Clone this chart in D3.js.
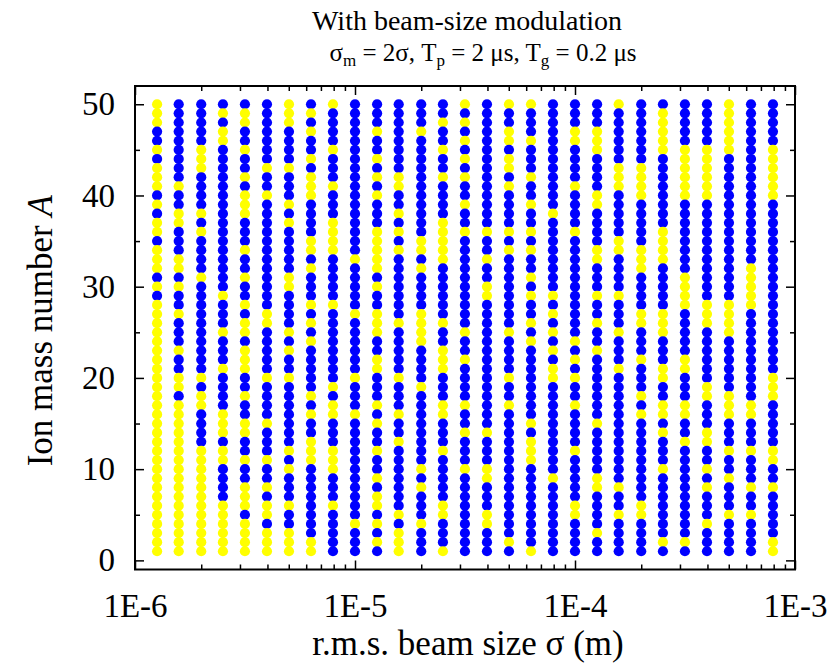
<!DOCTYPE html>
<html>
<head>
<meta charset="utf-8">
<script src="https://cdn.jsdelivr.net/npm/d3@7/dist/d3.min.js"></script>
<style>
  body { margin: 0; background: #fff; }
  svg text { font-family: "Liberation Serif", "Times New Roman", serif; }
</style>
</head>
<body>
<svg id="chart" width="837" height="664"></svg>
<script>
// r.m.s. beam size of each column (m)
var beamSizes = [1.26e-6, 1.58e-6, 2.0e-6, 2.51e-6, 3.16e-6, 3.98e-6, 5.01e-6, 6.31e-6, 7.94e-6,
                 1.0e-5, 1.26e-5, 1.58e-5, 2.0e-5, 2.51e-5, 3.16e-5, 3.98e-5, 5.01e-5, 6.31e-5, 7.94e-5,
                 1.0e-4, 1.26e-4, 1.58e-4, 2.0e-4, 2.51e-4, 3.16e-4, 3.98e-4, 5.01e-4, 6.31e-4, 7.94e-4];

// ion mass numbers, in the order the strings below are written (top to bottom)
var massNumbers = d3.range(50, 0, -1);

// one string per column, A = 50 ... 1, Y = yellow, B = blue (grouped by 5)
var outcome = [
  "YYYBB YBYYY BYBYY BYYYB YBYYY YYYYY YYYYY YYYYY YYYYY YYYYY",
  "BBBBB BBBBY BBYYB BBYYB YBBYB BBYBB YYBYY YYYYY YYYYY YYYYY",
  "BBBBB YYYBB BBYBY BBBBY BBBBB BBBBB YBYYB BBBYY YYYYY YYYYY",
  "BYBYY BBBBB BBBBB BBBBB BYBBB YBBBY BBBBY YYBYY BBBBY YYYYY",
  "BYYBB YBBYB YYYBB BYBBY BBYBY YBYYY BBYBB YYBBY BBYYY BYYYY",
  "BBBBB BBYBB YBBBB BBBBB BBBYY BBBBB YBBBB YBBBY BBYBY YBYYY",
  "YYYBB BBYBB BYBYB BBBBY YBBBB YBYBB YBBBB BBBYB YBBBY BBYYY",
  "BYBYB BYBYY YBBBB YYBYB BBYBY BYBBB BBYBY BBYYY BBBBB BBBYY",
  "YBBBB YBBBY BBBYY YYBBB BBYBB BBBBB BYBYY BBBYY YBBBY BBBBB",
  "BBBBB BBBBB BBBBB BBYBB BBBYB BBBBB YBBBY BBBBB BBBBB BYBBB",
  "BBBYB BYBYB YBBBY YYYYB YBBYY YBBYY BBBYB YBBYB BYBYY BYBYB",
  "BBBBB BBBYY BBYBY BYBBB BBBBY BBBBB YBBBY BBYBB BBBBB YBYYY",
  "BBBYB BBBBB BBBBB YYBYB BBBYY YYBBB BYBBB BBBBB YBYBB BYBBB",
  "BBYBB YBBYB BBBYY YYYBB BBBBY BBYYY BBBYY BBBYB BBBBY YBBBY",
  "YBYBY BYBYB BYBBY BBBBB BBBBB YBBYB BBBYB BYBBB YBBBB BBBBB",
  "BBBBB BBBBB BBBBY BBYBB YYBBB BBBBB BBBBB BYBBB YYBBB YYBBB",
  "YBBYY BYYBY BBBBY BYBBB BBBBB YBBBB YBBYB BBBBB BBBBB BBBYB",
  "YBBBY BBBYB BYBBY BYBBY BYBBY BYBBB BBBBB YBYYY BBBBB BBBBY",
  "BBBBB BBBBB BBYBB BBBBB BYBYB YBYBY YBBBB BBBBB BYBBB BBBBB",
  "BBBYY BBBBY BBBBY BBBBB BBBBB BYBYB YBBYB BBBYB BBBBY YBBBB",
  "BBBYY YBBBB YYBBB BYYBB BYBBY BBYBB BBBBB YBBBB BYYBB BBYBB",
  "YBBBB BBYYY BBBBB YYBBB BYBBB YBBBY BBBBB BBBBB BBYBB YBBBB",
  "BBBBB BBYYY YBBBB BYYYB BBBYY BBBYB BBYBY BBBBB BBBBY YBBBB",
  "BYYYY YBBBB BBBBY YYYBB BBBYY YBBBY YBBYY BYBBB YBBBB BBBYB",
  "BBBBB YYYYY YBBBB BBBBY YYYBB BBBYY BBBYY BBYBB BBBBB BBBYB",
  "BBBBB YYYYY YBBBB BBBBB BBYYY BBBBB BYYBB BYYBB YBYBB BYBBB",
  "YYYYY YBBBB BBBBB BBBBB BBYYY YBBBB BBYYY BBBYB BYBBB YBBBB",
  "BBBBB BBBBB BBBBB BBBYY YYYBB BBBBB BBBYY BBBYB BBYBB YBBBB",
  "BBBBB YYYYY YBBBB BBBBB BBBBB BBBBB YYYBB BBBYY BBYBB BBBYY"
];

var xMajor = [1e-6, 1e-5, 1e-4, 1e-3];
var xTickLabels = ["1E-6", "1E-5", "1E-4", "1E-3"];
var yMajor = [0, 10, 20, 30, 40, 50];
var yMinor = [5, 15, 25, 35, 45];

var title = "With beam-size modulation";
var xTitle = "r.m.s. beam size \u03c3 (m)";

var colors = { Y: "#ffff00", B: "#0000ff" };

(function () {
  var svg = d3.select("#chart");
  var x0 = 135, x1 = 795, y0 = 86, y1 = 569.5;
  var font = "Liberation Serif, Times New Roman, serif";

  var x = d3.scaleLog().domain([1e-6, 1e-3]).range([x0, x1]);
  var y = d3.scaleLinear().domain([-1, 52]).range([y1, y0]);

  var xMinor = [];
  xMajor.slice(0, -1).forEach(function (d) {
    for (var m = 2; m <= 9; m++) xMinor.push(d * m);
  });

  // dots
  var cells = [];
  outcome.forEach(function (s, i) {
    var flags = s.replace(/ /g, "");
    massNumbers.forEach(function (a, j) {
      cells.push({ sigma: beamSizes[i], A: a, c: flags[j] });
    });
  });

  svg.append("g")
    .selectAll("circle")
    .data(cells)
    .enter().append("circle")
    .attr("cx", function (d) { return x(d.sigma); })
    .attr("cy", function (d) { return y(d.A); })
    .attr("r", 5.1)
    .attr("fill", function (d) { return colors[d.c]; });

  // axes, ticks pointing inward on all four sides
  function styleAxis(g) {
    g.select(".domain").remove();
    g.selectAll("line").attr("stroke", "#000").attr("stroke-width", 1.5);
    g.selectAll("text").attr("fill", "#000").attr("font-size", 33)
      .attr("font-family", font);
  }

  svg.append("g").attr("transform", "translate(0," + y1 + ")")
    .call(d3.axisBottom(x).tickValues(xMajor).tickSize(-9).tickPadding(24)
      .tickFormat(function (d, i) { return xTickLabels[i]; }))
    .call(styleAxis);
  svg.append("g").attr("transform", "translate(0," + y1 + ")")
    .call(d3.axisBottom(x).tickValues(xMinor).tickSize(-5).tickFormat(""))
    .call(styleAxis);
  svg.append("g").attr("transform", "translate(0," + y0 + ")")
    .call(d3.axisTop(x).tickValues(xMajor).tickSize(-9).tickFormat(""))
    .call(styleAxis);
  svg.append("g").attr("transform", "translate(0," + y0 + ")")
    .call(d3.axisTop(x).tickValues(xMinor).tickSize(-5).tickFormat(""))
    .call(styleAxis);

  svg.append("g").attr("transform", "translate(" + x0 + ",0)")
    .call(d3.axisLeft(y).tickValues(yMajor).tickSize(-9).tickPadding(20))
    .call(styleAxis);
  svg.append("g").attr("transform", "translate(" + x0 + ",0)")
    .call(d3.axisLeft(y).tickValues(yMinor).tickSize(-5).tickFormat(""))
    .call(styleAxis);
  svg.append("g").attr("transform", "translate(" + x1 + ",0)")
    .call(d3.axisRight(y).tickValues(yMajor).tickSize(-9).tickFormat(""))
    .call(styleAxis);
  svg.append("g").attr("transform", "translate(" + x1 + ",0)")
    .call(d3.axisRight(y).tickValues(yMinor).tickSize(-5).tickFormat(""))
    .call(styleAxis);

  // frame
  svg.append("rect")
    .attr("x", x0).attr("y", y0)
    .attr("width", x1 - x0).attr("height", y1 - y0)
    .attr("fill", "none").attr("stroke", "#000").attr("stroke-width", 2);

  // titles
  var cx = (x0 + x1) / 2;
  svg.append("text").attr("x", cx + 2).attr("y", 30)
    .attr("text-anchor", "middle").attr("font-family", font)
    .attr("font-size", 28).text(title);

  var sub = svg.append("text").attr("x", cx + 18).attr("y", 61)
    .attr("text-anchor", "middle").attr("font-family", font).attr("font-size", 25);
  var subParts = [["\u03c3", 0], ["m", 1], [" = 2\u03c3, T", 0], ["p", 1],
                  [" = 2 \u03bcs, T", 0], ["g", 1], [" = 0.2 \u03bcs", 0]];
  subParts.forEach(function (p, k) {
    var t = sub.append("tspan").text(p[0]);
    if (p[1]) t.attr("font-size", 17).attr("dy", 5);
    else t.attr("font-size", 25).attr("dy", k === 0 ? 0 : -5);
  });

  svg.append("text").attr("x", cx + 3).attr("y", 655)
    .attr("text-anchor", "middle").attr("font-family", font)
    .attr("font-size", 35).text(xTitle);

  var yt = svg.append("text")
    .attr("transform", "translate(52," + ((y0 + y1) / 2 + 3) + ") rotate(-90)")
    .attr("text-anchor", "middle").attr("font-family", font).attr("font-size", 35);
  yt.append("tspan").text("Ion mass number ");
  yt.append("tspan").attr("font-style", "italic").text("A");
})();
</script>
</body>
</html>
